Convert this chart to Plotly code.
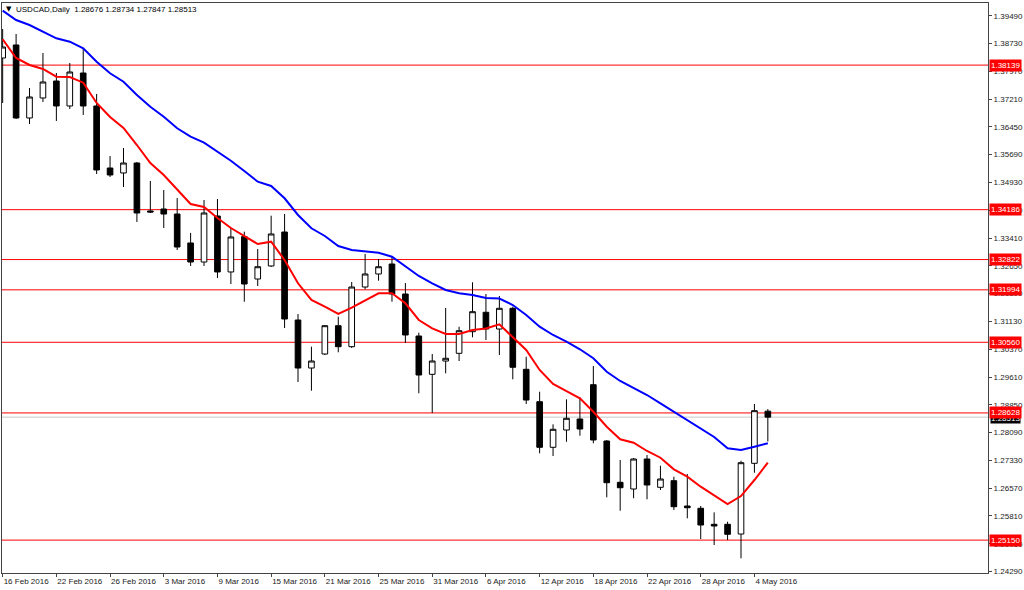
import plotly.graph_objects as go

# ---- data ----
dates = ["2016-02-16", "2016-02-17", "2016-02-18", "2016-02-19", "2016-02-22", "2016-02-23",
         "2016-02-24", "2016-02-25", "2016-02-26", "2016-02-29", "2016-03-01", "2016-03-02",
         "2016-03-03", "2016-03-04", "2016-03-07", "2016-03-08", "2016-03-09", "2016-03-10",
         "2016-03-11", "2016-03-14", "2016-03-15", "2016-03-16", "2016-03-17", "2016-03-18",
         "2016-03-21", "2016-03-22", "2016-03-23", "2016-03-24", "2016-03-25", "2016-03-28",
         "2016-03-29", "2016-03-30", "2016-03-31", "2016-04-01", "2016-04-04", "2016-04-05",
         "2016-04-06", "2016-04-07", "2016-04-08", "2016-04-11", "2016-04-12", "2016-04-13",
         "2016-04-14", "2016-04-15", "2016-04-18", "2016-04-19", "2016-04-20", "2016-04-21",
         "2016-04-22", "2016-04-25", "2016-04-26", "2016-04-27", "2016-04-28", "2016-04-29",
         "2016-05-02", "2016-05-03", "2016-05-04", "2016-05-05"]

opens = [1.38333, 1.38689, 1.36693, 1.37240, 1.37704, 1.37021, 1.37923, 1.37021, 1.35325, 1.35189,
         1.35462, 1.34150, 1.34204, 1.34067, 1.33275, 1.32755, 1.34013, 1.32482, 1.33447, 1.32290,
         1.32646, 1.33575, 1.31169, 1.29856, 1.30239, 1.31013, 1.30439, 1.32071, 1.32427, 1.32700,
         1.31880, 1.30731, 1.29684, 1.30048, 1.30258, 1.30849, 1.31380, 1.30923, 1.31489, 1.29821,
         1.28935, 1.27688, 1.28161, 1.28462, 1.29400, 1.27860, 1.26731, 1.26548, 1.27368, 1.26594,
         1.26775, 1.26083, 1.26020, 1.25582, 1.25582, 1.25317, 1.27250, 1.28676]
highs = [1.39126, 1.38990, 1.37513, 1.38470, 1.37923, 1.38197, 1.38607, 1.37349, 1.35654, 1.35872,
         1.35490, 1.34970, 1.34724, 1.34505, 1.33550, 1.34450, 1.34477, 1.33685, 1.33584, 1.33110,
         1.34021, 1.34067, 1.31333, 1.30439, 1.31032, 1.31259, 1.32208, 1.32974, 1.32837, 1.32892,
         1.32181, 1.30822, 1.30239, 1.31497, 1.30986, 1.32200, 1.31880, 1.31825, 1.31533, 1.30165,
         1.29208, 1.28317, 1.29000, 1.29055, 1.29911, 1.27888, 1.27341, 1.27395, 1.27477, 1.27185,
         1.26884, 1.26958, 1.26083, 1.25910, 1.25653, 1.27321, 1.28872, 1.28734]
lows = [1.37103, 1.36665, 1.36529, 1.37130, 1.36611, 1.36939, 1.36775, 1.35161, 1.35079, 1.34806,
        1.33849, 1.34095, 1.33685, 1.33083, 1.32646, 1.32646, 1.32317, 1.32153, 1.31669, 1.32099,
        1.32618, 1.30950, 1.29474, 1.29236, 1.30212, 1.30286, 1.30403, 1.32008, 1.32244, 1.31669,
        1.30540, 1.29165, 1.28626, 1.29711, 1.30048, 1.30696, 1.30622, 1.30212, 1.29547, 1.28872,
        1.27524, 1.27450, 1.27841, 1.28005, 1.27797, 1.26321, 1.25954, 1.26293, 1.26266, 1.26520,
        1.25973, 1.25746, 1.25180, 1.25016, 1.25153, 1.24653, 1.26993, 1.27847]
closes = [1.38634, 1.36693, 1.37267, 1.37677, 1.37021, 1.37950, 1.37021, 1.35271, 1.35134, 1.35462,
          1.34095, 1.34122, 1.34067, 1.33165, 1.32755, 1.34095, 1.32482, 1.33439, 1.32153, 1.32626,
          1.33521, 1.31196, 1.29856, 1.30048, 1.31013, 1.30439, 1.32071, 1.32427, 1.32626, 1.31880,
          1.30759, 1.29665, 1.30048, 1.30122, 1.30876, 1.31396, 1.30923, 1.31489, 1.29876, 1.28981,
          1.27688, 1.28180, 1.28481, 1.28188, 1.27888, 1.26720, 1.26583, 1.27368, 1.26657, 1.26821,
          1.26064, 1.26036, 1.25563, 1.25536, 1.25309, 1.27267, 1.28690, 1.28513]

ma_fast = [1.38845, 1.38333, 1.38142, 1.38033, 1.37822, 1.37814, 1.37658, 1.37103, 1.36720, 1.36419,
           1.35954, 1.35462, 1.35134, 1.34724, 1.34341, 1.34259, 1.33958, 1.33685, 1.33466, 1.33247,
           1.33310, 1.32810, 1.32173, 1.31716, 1.31533, 1.31333, 1.31505, 1.31697, 1.31899, 1.31899,
           1.31626, 1.31169, 1.30942, 1.30786, 1.30786, 1.30896, 1.30936, 1.31051, 1.30712, 1.30349,
           1.29802, 1.29419, 1.29227, 1.29028, 1.28661, 1.28251, 1.27907, 1.27814, 1.27587, 1.27403,
           1.27086, 1.26884, 1.26611, 1.26384, 1.26137, 1.26356, 1.26794, 1.27267]
ma_slow = [1.39627, 1.39372, 1.39236, 1.39053, 1.38872, 1.38779, 1.38599, 1.38232, 1.37915, 1.37685,
           1.37322, 1.37002, 1.36728, 1.36411, 1.36181, 1.36017, 1.35771, 1.35525, 1.35243, 1.34951,
           1.34833, 1.34497, 1.34040, 1.33677, 1.33466, 1.33192, 1.33083, 1.33037, 1.33009, 1.32900,
           1.32626, 1.32372, 1.32173, 1.31989, 1.31899, 1.31853, 1.31771, 1.31757, 1.31579, 1.31306,
           1.30986, 1.30759, 1.30576, 1.30368, 1.30122, 1.29755, 1.29501, 1.29301, 1.29118, 1.28891,
           1.28661, 1.28434, 1.28188, 1.27970, 1.27661, 1.27614, 1.27704, 1.27797]

levels = [1.38139, 1.34186, 1.32822, 1.31994, 1.30560, 1.28628, 1.25150]
bid = 1.28513

y_ticks = [1.24290, 1.25050, 1.25810, 1.26570, 1.27330, 1.28090, 1.28850, 1.29610, 1.30370,
           1.31130, 1.31890, 1.32650, 1.33410, 1.34170, 1.34930, 1.35690, 1.36450, 1.37210,
           1.37970, 1.38730, 1.39490]
x_tick_pos = [0, 4, 8, 12, 16, 20, 24, 28, 32, 36, 40, 44, 48, 52, 56]
x_tick_labels = ["16 Feb 2016", "22 Feb 2016", "26 Feb 2016", "3 Mar 2016", "9 Mar 2016",
                 "15 Mar 2016", "21 Mar 2016", "25 Mar 2016", "31 Mar 2016", "6 Apr 2016",
                 "12 Apr 2016", "18 Apr 2016", "22 Apr 2016", "28 Apr 2016", "4 May 2016"]

title_symbol = "USDCAD,Daily"
last_ohlc = [1.28676, 1.28734, 1.27847, 1.28513]

# ---- figure ----
FONT = "Liberation Sans"
FS = 8
xi = list(range(len(dates)))

fig = go.Figure()
fig.add_trace(go.Candlestick(
    x=xi, open=opens, high=highs, low=lows, close=closes,
    increasing=dict(line=dict(color="black", width=1), fillcolor="white"),
    decreasing=dict(line=dict(color="black", width=1), fillcolor="black"),
    whiskerwidth=0, showlegend=False, hoverinfo="skip"))
fig.add_trace(go.Scatter(x=xi, y=ma_slow, mode="lines",
                         line=dict(color="#0000ff", width=2), hoverinfo="skip"))
fig.add_trace(go.Scatter(x=xi, y=ma_fast, mode="lines",
                         line=dict(color="#ff0000", width=2), hoverinfo="skip"))

shapes = [dict(type="line", xref="paper", x0=0, x1=1, yref="y", y0=bid, y1=bid,
               line=dict(color="#c8c8c8", width=1), layer="below")]
for lv in levels:
    shapes.append(dict(type="line", xref="paper", x0=0, x1=1, yref="y", y0=lv, y1=lv,
                       line=dict(color="#ff0000", width=1), layer="below"))

annotations = [dict(x=1, xref="paper", y=bid, yref="y", xanchor="left", yanchor="middle",
                    text=f"{bid:.5f}", showarrow=False, bgcolor="#000000", borderpad=0,
                    xshift=2, yshift=-1, font=dict(family=FONT, size=FS, color="white"))]
for lv in levels:
    annotations.append(dict(x=1, xref="paper", y=lv, yref="y", xanchor="left", yanchor="middle",
                            text=f"{lv:.5f}", showarrow=False, bgcolor="#ff0000", borderpad=1,
                            xshift=1, font=dict(family=FONT, size=FS, color="white")))
annotations.append(dict(x=0, xref="paper", y=1, yref="paper", xanchor="left", yanchor="top",
                        xshift=2, yshift=0, text="▼", showarrow=False,
                        font=dict(family="DejaVu Sans", size=7, color="black")))
annotations.append(dict(x=0, xref="paper", y=1, yref="paper", xanchor="left", yanchor="top",
                        xshift=12, yshift=0, showarrow=False,
                        text=title_symbol + "\u00a0\u00a0" + " ".join(f"{v:.5f}" for v in last_ohlc),
                        font=dict(family=FONT, size=FS, color="black")))

fig.update_layout(
    width=1024, height=590,
    margin=dict(l=2, r=36, t=3, b=17, autoexpand=False),
    paper_bgcolor="white", plot_bgcolor="white",
    showlegend=False, boxgap=0.4,
    shapes=shapes, annotations=annotations,
    xaxis=dict(range=[-0.05, 73.4], tickvals=x_tick_pos, ticktext=x_tick_labels,
               tickangle=0, automargin=False,
               ticks="outside", ticklen=3, tickcolor="#444", showgrid=False, zeroline=False,
               showline=True, mirror=True, linecolor="#444", linewidth=1,
               ticklabelposition="outside right",
               tickfont=dict(family=FONT, size=FS, color="#222"),
               rangeslider=dict(visible=False), fixedrange=True),
    yaxis=dict(side="right", range=[1.24251, 1.39837], tickvals=y_ticks,
               ticktext=[f"{v:.5f}" for v in y_ticks], automargin=False,
               ticks="outside", ticklen=3, tickcolor="#444", showgrid=False, zeroline=False,
               showline=True, mirror=True, linecolor="#444", linewidth=1,
               tickfont=dict(family=FONT, size=FS, color="#222"), fixedrange=True),
)

fig.write_html("out.html")
